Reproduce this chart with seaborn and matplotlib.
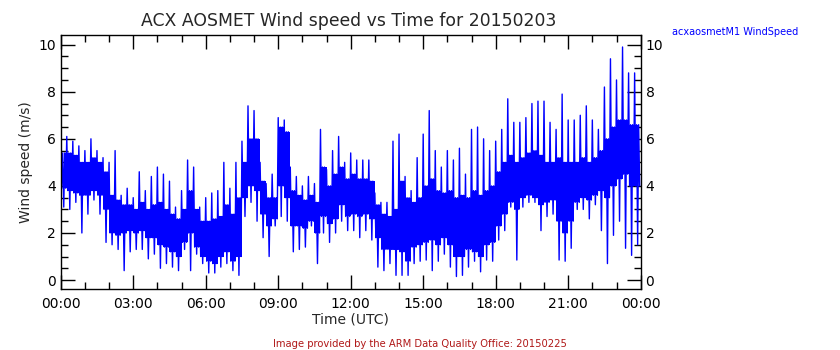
import numpy as np
import pandas as pd
import matplotlib
matplotlib.use("Agg")
import matplotlib.pyplot as plt
import seaborn as sns
from matplotlib.ticker import MultipleLocator, FuncFormatter

# 15-minute bins, 00:00 .. 23:45 UTC (hours)
bin_hours = [i * 0.25 for i in range(96)]

# extreme high / low of wind speed in each bin (m/s)
speed_hi = [5.6, 6.1, 5.9, 5.7, 5.5, 6.0, 5.5, 5.2, 5.0, 5.5, 3.6, 3.9, 3.5, 4.6, 3.8, 4.4,
            4.8, 4.5, 4.2, 3.1, 3.8, 5.1, 4.8, 3.1, 3.5, 3.7, 3.8, 5.0, 3.9, 5.0, 5.9, 7.4,
            7.2, 5.0, 4.1, 4.5, 6.9, 6.8, 4.8, 4.4, 4.0, 4.4, 4.1, 6.4, 4.7, 5.5, 6.1, 5.0,
            5.4, 5.1, 5.1, 5.1, 3.7, 3.3, 3.3, 5.9, 6.2, 4.4, 3.8, 5.2, 6.2, 7.2, 5.5, 4.8,
            5.5, 5.1, 5.6, 4.5, 6.4, 6.5, 6.0, 5.5, 5.9, 6.4, 7.7, 6.7, 6.7, 6.9, 7.5, 7.6,
            7.6, 6.7, 6.4, 7.9, 6.8, 6.8, 7.0, 7.4, 6.8, 6.4, 8.2, 9.4, 8.5, 9.9, 8.8, 8.8]
speed_lo = [3.1, 3.0, 3.3, 2.0, 2.8, 3.4, 2.8, 1.6, 1.5, 1.3, 0.4, 1.2, 1.3, 1.3, 0.9, 1.1,
            0.5, 0.7, 0.55, 0.4, 1.3, 0.4, 1.1, 0.7, 0.3, 0.3, 0.55, 0.7, 0.4, 0.2, 2.7, 3.3,
            2.5, 1.8, 1.0, 2.3, 2.7, 2.5, 1.2, 1.3, 1.4, 2.3, 0.7, 2.0, 1.6, 2.0, 2.5, 2.1,
            2.1, 1.8, 2.1, 1.7, 0.55, 0.4, 0.7, 0.2, 0.2, 0.2, 0.7, 0.8, 0.85, 0.4, 0.8, 1.1,
            0.55, 0.15, 0.2, 0.55, 0.8, 0.35, 0.85, 0.8, 1.7, 2.1, 3.1, 0.85, 3.1, 3.3, 3.3, 2.1,
            2.7, 2.8, 0.85, 0.8, 1.35, 3.0, 3.0, 2.6, 3.2, 2.1, 0.7, 1.9, 2.5, 1.35, 1.05, 1.5]
# dense core of the trace in each bin (m/s)
core_hi = [5.4, 5.4, 5.3, 5.0, 5.0, 5.2, 5.0, 4.6, 3.6, 3.4, 3.2, 3.2, 3.0, 3.3, 3.0, 3.2,
           3.3, 3.0, 2.8, 2.6, 3.0, 3.8, 3.0, 2.5, 2.5, 2.6, 2.7, 3.2, 2.8, 3.5, 5.0, 6.0,
           6.0, 4.2, 3.5, 3.5, 6.5, 6.3, 3.8, 3.6, 3.4, 3.6, 3.3, 4.8, 4.0, 4.5, 4.8, 4.3,
           4.5, 4.3, 4.3, 4.2, 3.2, 2.8, 2.7, 3.0, 4.2, 3.5, 3.3, 3.5, 4.0, 4.3, 3.8, 3.7,
           3.8, 3.5, 3.6, 3.5, 3.8, 3.6, 3.8, 4.0, 4.6, 5.0, 5.3, 5.0, 5.2, 5.4, 5.5, 5.3,
           5.0, 5.0, 5.2, 5.0, 5.0, 5.0, 5.2, 5.0, 5.2, 5.5, 6.0, 6.5, 6.8, 6.8, 6.6, 6.6]
core_lo = [3.9, 3.8, 3.7, 3.6, 3.6, 3.8, 3.6, 3.0, 2.0, 1.9, 2.0, 2.1, 2.0, 2.1, 1.8, 1.8,
           1.5, 1.4, 1.2, 1.0, 1.6, 2.0, 1.4, 1.0, 0.8, 0.7, 1.0, 1.2, 0.8, 1.0, 3.5, 4.0,
           3.8, 2.8, 2.3, 2.6, 4.0, 3.5, 2.3, 2.3, 2.2, 2.5, 2.0, 2.7, 2.4, 2.6, 3.2, 2.7,
           2.8, 2.7, 2.8, 2.6, 1.8, 1.3, 1.3, 1.3, 1.2, 0.8, 1.4, 1.5, 1.6, 1.7, 1.5, 1.8,
           1.5, 1.0, 1.0, 1.3, 1.2, 1.0, 1.5, 1.6, 2.3, 2.8, 3.3, 3.0, 3.5, 3.6, 3.5, 3.2,
           3.3, 3.4, 2.5, 2.0, 2.5, 3.3, 3.5, 3.4, 3.6, 3.8, 3.5, 4.0, 4.3, 4.5, 4.0, 4.0]

x_tick_labels = ["00:00", "03:00", "06:00", "09:00", "12:00", "15:00", "18:00", "21:00", "00:00"]

BLUE = "#0000ff"

sns.set_style("ticks")
plt.rcParams["font.family"] = ["DejaVu Sans"]

fig = plt.figure(figsize=(8.4, 3.5), dpi=100)
ax = fig.add_axes([0.0723, 0.1743, 0.6904, 0.7257])

# trace visits, in each bin: extreme high, core low, core high, extreme low, core high, core low
t = np.array(bin_hours)
step = 0.25 / 6
seq_vals = np.column_stack([speed_hi, core_lo, core_hi, speed_lo, core_hi, core_lo])
seq_x = np.column_stack([t + k * step for k in range(6)])
df = pd.DataFrame({"hour": np.ravel(seq_x), "speed": np.ravel(seq_vals)})

# solid dense core underneath the trace
ax.fill_between(t + 0.125, core_lo, core_hi, color=BLUE, lw=0, step="mid")
sns.lineplot(data=df, x="hour", y="speed", ax=ax, sort=False, estimator=None,
             color=BLUE, lw=1.0)

ax.set_xlim(0, 24)
ax.set_ylim(-0.38, 10.41)
ax.xaxis.set_major_locator(MultipleLocator(3))
ax.xaxis.set_minor_locator(MultipleLocator(1))
ax.xaxis.set_major_formatter(FuncFormatter(lambda v, p: x_tick_labels[int(round(v / 3))] if 0 <= round(v / 3) < len(x_tick_labels) else ""))
ax.yaxis.set_major_locator(MultipleLocator(2))
ax.yaxis.set_minor_locator(MultipleLocator(0.5))
ax.tick_params(which="both", direction="in", top=True, right=True, labelright=True,
               colors="black", labelsize=10, width=1)
ax.tick_params(which="major", length=10)
ax.tick_params(which="minor", length=5)
ax.tick_params(axis="x", pad=6)
for s in ax.spines.values():
    s.set_linewidth(1)
    s.set_color("black")

ax.set_xlabel("Time (UTC)", fontsize=10, labelpad=1)
ax.set_ylabel("Wind speed (m/s)", fontsize=10, labelpad=4)

fig.text(0.415, 0.94, "ACX AOSMET Wind speed vs Time for 20150203", ha="center", va="center",
         fontsize=12.4, family=["Liberation Sans Narrow", "DejaVu Sans"])
fig.text(0.8, 0.908, "acxaosmetM1 WindSpeed", ha="left", va="center", fontsize=7,
         color=BLUE, family=["Liberation Sans Narrow", "DejaVu Sans"])
fig.text(0.5, 0.017, "Image provided by the ARM Data Quality Office: 20150225", ha="center",
         va="center", fontsize=7.2, color="#b01818", family=["Liberation Sans Narrow", "DejaVu Sans"])

fig.savefig("out.png", dpi=100)
